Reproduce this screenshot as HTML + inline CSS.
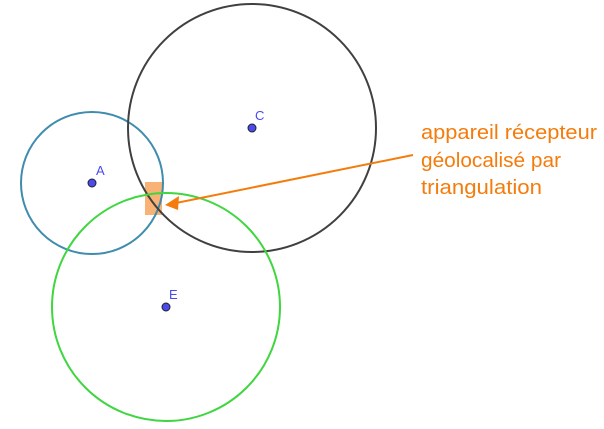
<!DOCTYPE html>
<html><head><meta charset="utf-8"><style>
html,body{margin:0;padding:0;background:#fff;}
svg{display:block;}
</style></head><body>
<svg width="604" height="429" viewBox="0 0 604 429">
  <rect x="145" y="182" width="17" height="33" fill="#f9b276"/>
  <circle cx="92" cy="183" r="71" fill="none" stroke="#3f8cad" stroke-width="2"/>
  <circle cx="252" cy="128" r="124" fill="none" stroke="#404040" stroke-width="2"/>
  <circle cx="166" cy="307" r="114" fill="none" stroke="#3fd63f" stroke-width="2"/>
  <circle cx="92" cy="183" r="4" fill="#4a4af0" stroke="#222" stroke-width="1"/>
  <circle cx="252" cy="128" r="4" fill="#4a4af0" stroke="#222" stroke-width="1"/>
  <circle cx="166" cy="307" r="4" fill="#4a4af0" stroke="#222" stroke-width="1"/>
  <g font-family="Liberation Sans, sans-serif" font-size="13" fill="#4a4af0">
    <text x="96" y="175">A</text>
    <text x="255" y="120">C</text>
    <text x="169" y="299">E</text>
  </g>
  <line x1="413" y1="155" x2="176" y2="203" stroke="#f47c0c" stroke-width="2"/>
  <polygon points="165,205 179,196 178,210" fill="#f47c0c"/>
  <g font-family="Liberation Sans, sans-serif" font-size="20" fill="#f47c0c">
    <text x="421" y="139" textLength="176" lengthAdjust="spacingAndGlyphs">appareil récepteur</text>
    <text x="421" y="167" textLength="140" lengthAdjust="spacingAndGlyphs">géolocalisé par</text>
    <text x="421" y="194" textLength="121" lengthAdjust="spacingAndGlyphs">triangulation</text>
  </g>
</svg>
</body></html>
